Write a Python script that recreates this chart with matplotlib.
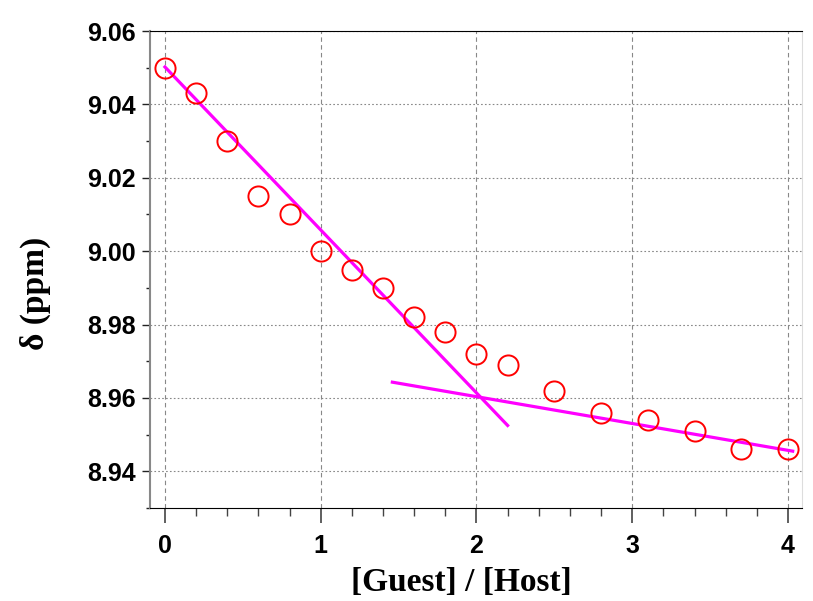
import numpy as np
import matplotlib
matplotlib.use('Agg')
import matplotlib.pyplot as plt
from matplotlib.ticker import MultipleLocator

# titration data
ratio = [0, 0.2, 0.4, 0.6, 0.8, 1.0, 1.2, 1.4, 1.6, 1.8, 2.0, 2.2,
         2.5, 2.8, 3.1, 3.4, 3.7, 4.0]
shift = [9.050, 9.043, 9.030, 9.015, 9.010, 9.000, 8.995, 8.990, 8.982,
         8.978, 8.972, 8.969, 8.962, 8.956, 8.954, 8.951, 8.946, 8.946]

# the two straight fits
fit1_x = [0.0, 2.2]
fit1_y = [9.0502, 8.9525]
fit2_x = [1.46, 4.03]
fit2_y = [8.9643, 8.9455]

fig = plt.figure(figsize=(8.13, 6.01), dpi=100)
ax = fig.add_axes([0.1845, 0.1547, 0.802, 0.7937])

ax.plot(fit1_x, fit1_y, color='#ff00ff', lw=2.3, zorder=3)
ax.plot(fit2_x, fit2_y, color='#ff00ff', lw=2.3, zorder=3)
ax.plot(ratio, shift, 'o', ms=14.5, mfc='none', mec='#ff0000', mew=1.4, zorder=4)

ax.set_xlim(-0.096, 4.09)
ax.set_ylim(8.93, 9.06)
ax.xaxis.set_major_locator(MultipleLocator(1))
ax.xaxis.set_minor_locator(MultipleLocator(0.2))
ax.yaxis.set_major_locator(MultipleLocator(0.02))
ax.yaxis.set_minor_locator(MultipleLocator(0.01))
ax.yaxis.set_major_formatter(plt.FormatStrFormatter('%.2f'))

ax.grid(True, axis='x', which='major', ls=(0, (4, 3)), color='#888888', lw=0.8)
ax.grid(True, axis='y', which='major', ls=(0, (1.5, 2)), color='#888888', lw=0.8)

ax.tick_params(axis='x', which='major', direction='out', length=11, width=1.2, color='#444444', pad=8)
ax.tick_params(axis='x', which='minor', direction='out', length=6, width=1, color='#444444')
ax.tick_params(axis='y', which='major', direction='out', length=6, width=1, color='#222222', pad=4)
ax.tick_params(axis='y', which='minor', direction='out', length=3, width=1, color='#222222')
for lab in ax.get_xticklabels() + ax.get_yticklabels():
    lab.set_family('Liberation Sans')
    lab.set_fontweight('bold')
    lab.set_fontsize(18)

ax.spines['left'].set_color('#888888')
ax.spines['left'].set_linewidth(1.5)
ax.spines['right'].set_color('#dddddd')
ax.spines['top'].set_color('black')
ax.spines['bottom'].set_color('black')

ax.set_xlabel('[Guest] / [Host]', family='Liberation Serif', fontweight='bold', fontsize=24)
ax.set_ylabel('δ (ppm)', family='Liberation Serif', fontweight='bold', fontsize=24)
ax.xaxis.set_label_coords(0.477, -0.123)
ax.yaxis.set_label_coords(-0.152, 0.449)

fig.savefig('out.png', dpi=100)
